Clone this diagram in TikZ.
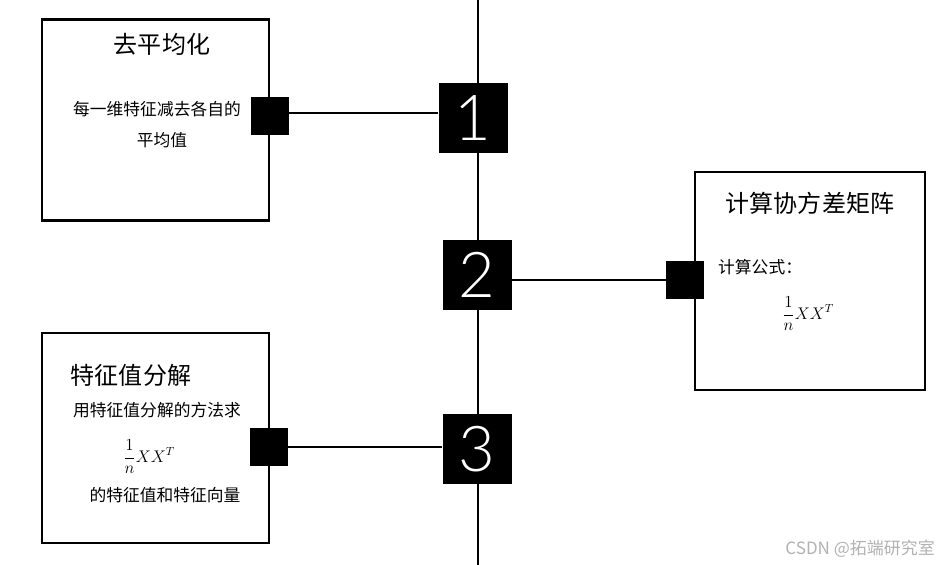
\documentclass[tikz,border=0pt]{standalone}
\usepackage{fontspec}
\setmainfont{Noto Sans CJK SC}
\newfontfamily\numfont{Lato Light}
\usepackage{tikz}

\begin{document}
\begin{tikzpicture}[x=0.03cm,y=-0.03cm,
  stepbox/.style={draw=black,line width=2.4pt,fill=white,inner sep=0pt},
  port/.style={fill=black,inner sep=0pt,minimum size=1.14cm},
  numbox/.style={fill=black,inner sep=0pt,minimum size=2.07cm,text=white,font=\numfont\fontsize{54}{56}\selectfont},
  title/.style={inner sep=0pt,font=\fontsize{20.5}{24}\selectfont},
  body/.style={inner sep=0pt,font=\fontsize{14.3}{17}\selectfont},
  formula/.style={inner sep=0pt,font=\fontsize{14.5}{17}\selectfont},
  wire/.style={line width=1.6pt}]
\useasboundingbox (0,0) rectangle (941,565);
\fill[white] (0,0) rectangle (941,565);
% the spine
\coordinate (top) at (478,0);
\coordinate (bot) at (478,565);
\draw [wire] (top) -- (bot);
% left top box
\node [stepbox,minimum width=6.81cm,minimum height=6.03cm] (box1) at (155.5,120) {};
\node [title] (t1) at (162,44) {去平均化};
\node [body] (b1a) at (157,109) {每一维特征减去各自的};
\node [body] (b1b) at (162,140) {平均值};
% right box
\node [stepbox,minimum width=6.9cm,minimum height=6.54cm] (box2) at (810,281) {};
\node [title] (t2) at (810,203) {计算协方差矩阵};
\node [body,anchor=west] (b2a) at (718,267) {计算公式：};
\node [formula] (f2) at (808,314) {$\displaystyle\frac{1}{n}XX^{T}$};
% left bottom box
\node [stepbox,minimum width=6.81cm,minimum height=6.3cm] (box3) at (155.5,438) {};
\node [title] (t3) at (131,375) {特征值分解};
\node [body] (b3a) at (157,410) {用特征值分解的方法求};
\node [formula] (f3) at (149,457) {$\displaystyle\frac{1}{n}XX^{T}$};
\node [body] (b3b) at (165,495) {的特征值和特征向量};
% ports
\node [port] (p1) at (270,116) {};
\node [port] (p2) at (685,280) {};
\node [port] (p3) at (269,447) {};
% numbered steps
\node [numbox] (n1) at (473,118) {1};
\node [numbox] (n2) at (477,275) {2};
\node [numbox] (n3) at (477,449) {3};
\draw [wire] (p1.east |- 0,113) -- (n1.west |- 0,113);
\draw [wire] (n2.east |- p2) -- (p2.west);
\draw [wire] (p3.east) -- (n3.west |- p3);
\node [inner sep=0pt,anchor=east,text=black!30,font=\fontsize{14.5}{17}\selectfont] (wm) at (935,549) {CSDN @拓端研究室};
\end{tikzpicture}
\end{document}
